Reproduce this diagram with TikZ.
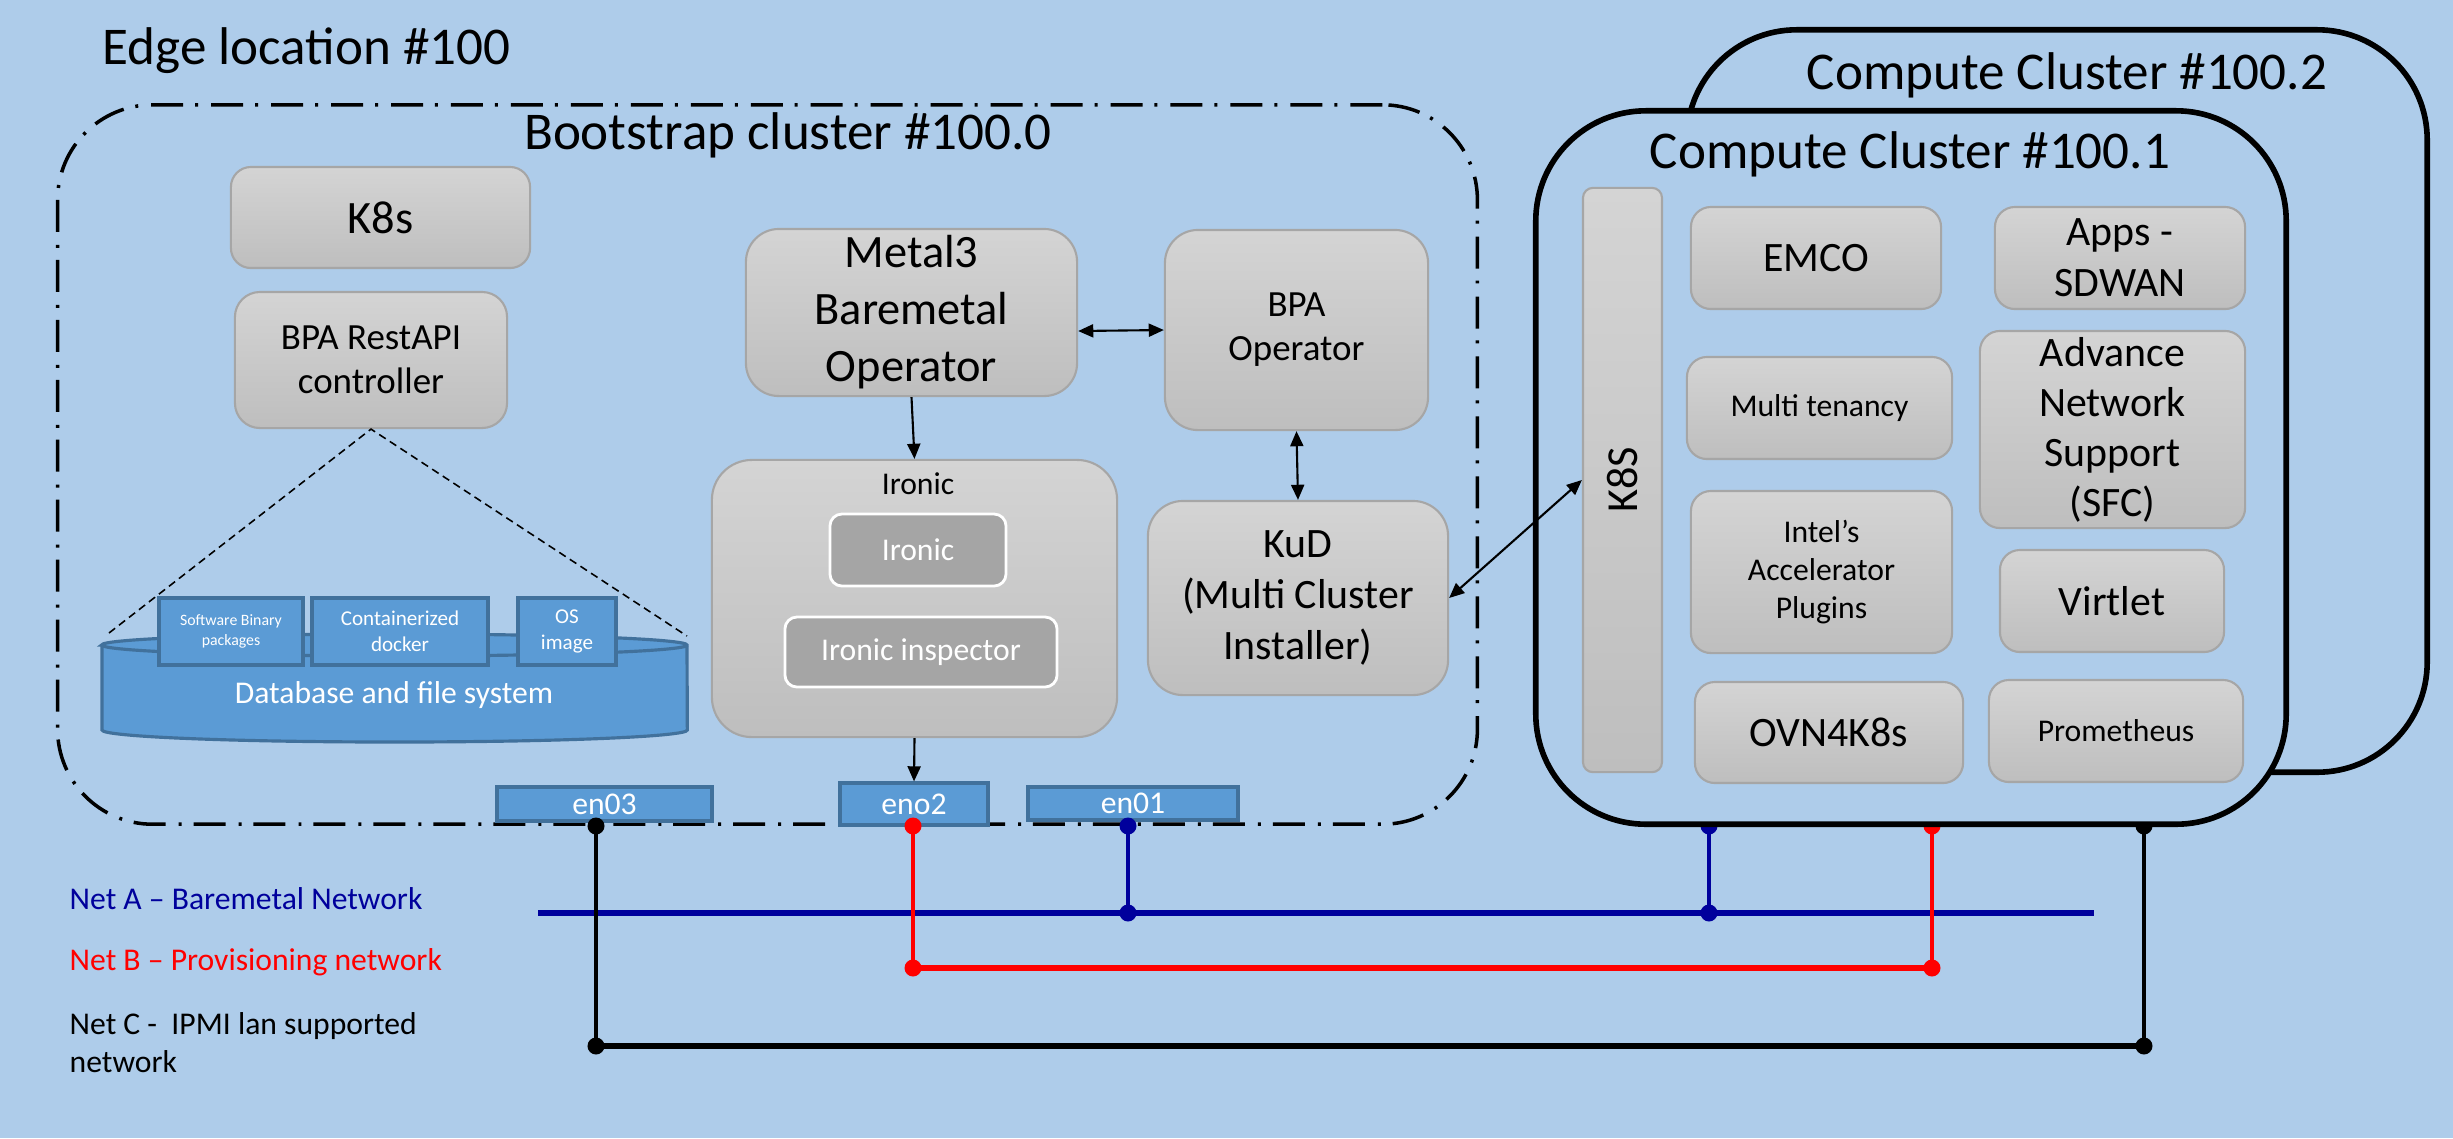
\documentclass[tikz,border=0pt]{standalone}
\usepackage{fontspec}
\setmainfont{Carlito}
\usetikzlibrary{arrows.meta}

\definecolor{bgblue}{HTML}{AECCEA}
\definecolor{boxtop}{HTML}{D4D4D4}
\definecolor{boxbot}{HTML}{BEBEBE}
\definecolor{boxline}{HTML}{A6A6A6}
\definecolor{innergray}{HTML}{A5A5A5}
\definecolor{dbblue}{HTML}{5B9BD5}
\definecolor{dbline}{HTML}{41719C}
\definecolor{netblue}{HTML}{00009C}

\tikzset{
  ftitle/.style={font=\fontsize{15.1}{18}\selectfont},
  flarge/.style={font=\fontsize{13.2}{16.2}\selectfont},
  fmed/.style={font=\fontsize{11.9}{14.6}\selectfont},
  fnorm/.style={font=\fontsize{10.5}{12.5}\selectfont},
  fsmall/.style={font=\fontsize{9}{10.8}\selectfont},
  fdb/.style={font=\fontsize{6}{7.4}\selectfont},
  fmini/.style={font=\fontsize{4.5}{5.7}\selectfont},
  gbox/.style={draw=boxline, line width=0.6pt, top color=boxtop, bottom color=boxbot,
    rounded corners=0.2cm, align=center, inner sep=0pt},
  ibox/.style={draw=white, line width=0.8pt, fill=innergray, text=white,
    rounded corners=0.12cm, inner sep=0pt, fsmall},
  bbox/.style={draw=dbline, line width=0.9pt, fill=dbblue, text=white, align=center, inner sep=0pt},
  bootbox/.style={draw, line width=1pt, dash pattern=on 9.1pt off 3.7pt on 0.85pt off 3.4pt,
    rounded corners=0.95cm, inner sep=0pt},
  clus/.style={draw, line width=1.6pt, fill=bgblue, rounded corners=1.1cm, inner sep=0pt},
  flow/.style={line width=0.6pt, ->},
  link/.style={line width=0.6pt, <->},
  wire/.style={line width=1.4pt},
  bus/.style={line width=1.7pt},
}

\begin{document}
\begin{tikzpicture}[x=0.01cm, y=-0.01cm, >={Triangle[length=4.3pt, width=3.7pt]}]
  \useasboundingbox (0,0) rectangle (2453,1138);
  \fill[bgblue] (0,0) rectangle (2453,1138);

  \node[ftitle, anchor=base west, inner sep=0pt] (edge) at (102,64) {Edge location \#100};

  % bootstrap cluster
  \node[bootbox, minimum width=14.19cm, minimum height=7.19cm] (boot) at (767.5,464.5) {};
  \node[ftitle, anchor=base, inner sep=0pt] (bootlbl) at (788,149) {Bootstrap cluster \#100.0};

  \node[gbox, flarge, minimum width=2.99cm, minimum height=1.01cm] (k8s) at (380.5,217.5) {K8s};
  \node[gbox, fnorm, rounded corners=0.25cm, minimum width=2.72cm, minimum height=1.36cm] (bparest) at (371,360) {BPA RestAPI\\controller};

  % storage
  \coordinate (trl) at (109,633);
  \coordinate (trr) at (687,636);
  \draw[line width=0.45pt, dash pattern=on 2.2pt off 1.4pt] (trl) -- (bparest.south) -- (trr);
  \draw[draw=dbline, fill=dbblue, line width=0.9pt] (102,645) -- (102,730)
    arc[start angle=180, end angle=360, x radius=2.925cm, y radius=0.12cm] -- (687,645)
    arc[start angle=0, end angle=180, x radius=2.925cm, y radius=0.11cm] -- cycle;
  \draw[draw=dbline, line width=0.9pt] (102,645) arc[start angle=180, end angle=360, x radius=2.925cm, y radius=0.11cm];
  \node[fsmall, text=white, anchor=base] (db) at (394,703) {Database and file system};
  \node[bbox, fmini, minimum width=1.44cm, minimum height=0.67cm] (sbp) at (231,631.5) {Software Binary\\packages};
  \node[bbox, fdb, minimum width=1.76cm, minimum height=0.67cm] (cdk) at (400,631.5) {Containerized\\docker};
  \node[bbox, fdb, minimum width=0.98cm, minimum height=0.67cm] (osi) at (567,631.5) {OS\\image};

  % operators
  \node[gbox, flarge, rounded corners=0.33cm, minimum width=3.31cm, minimum height=1.67cm] (metal) at (911.5,312.5) {Metal3\\Baremetal\\Operator};
  \node[gbox, fnorm, rounded corners=0.33cm, minimum width=2.63cm, minimum height=2.0cm] (bpaop) at (1296.5,330) {BPA\\Operator};
  \node[gbox, rounded corners=0.4cm, minimum width=4.05cm, minimum height=2.77cm] (ironic) at (914.5,598.5) {};
  \node[fsmall, anchor=base] (ironiclbl) at (918,494) {Ironic};
  \node[ibox, minimum width=1.76cm, minimum height=0.72cm] (ironicin) at (918,550) {Ironic};
  \node[ibox, minimum width=2.72cm, minimum height=0.70cm] (inspector) at (921,652) {Ironic inspector};
  \node[gbox, fmed, rounded corners=0.35cm, minimum width=3.0cm, minimum height=1.94cm] (kud) at (1298,598) {KuD\\(Multi Cluster\\Installer)};

  % nics
  \node[bbox, fsmall, minimum width=2.15cm, minimum height=0.34cm] (en03) at (604.5,804) {en03};
  \node[bbox, fsmall, minimum width=1.48cm, minimum height=0.42cm] (eno2) at (914,804) {eno2};
  \node[bbox, fsmall, minimum width=2.10cm, minimum height=0.33cm] (en01) at (1133,803.5) {en01};

  % networks
  \coordinate (a0) at (538,913);
  \coordinate (a9) at (2094,913);
  \coordinate (ta1) at (1128,826);
  \coordinate (ja1) at (1128,913);
  \coordinate (ta2) at (1709,826);
  \coordinate (ja2) at (1709,913);
  \coordinate (tb1) at (913,826);
  \coordinate (jb1) at (913,968);
  \coordinate (tb2) at (1932,826);
  \coordinate (jb2) at (1932,968);
  \coordinate (tc1) at (596,826);
  \coordinate (jc1) at (596,1046);
  \coordinate (tc2) at (2144,826);
  \coordinate (jc2) at (2144,1046);
  \draw[bus, netblue] (a0) -- (a9);
  \draw[bus, red] (jb1) -- (jb2);
  \draw[bus] (jc1) -- (jc2);
  \draw[wire, netblue] (ta1) -- (ja1) (ta2) -- (ja2);
  \draw[wire, red] (tb1) -- (jb1) (tb2) -- (jb2);
  \draw[wire] (tc1) -- (jc1) (tc2) -- (jc2);
  \fill[netblue] (ta1) circle[radius=0.085cm] (ja1) circle[radius=0.085cm]
    (ta2) circle[radius=0.085cm] (ja2) circle[radius=0.085cm];
  \fill[red] (tb1) circle[radius=0.085cm] (jb1) circle[radius=0.085cm]
    (tb2) circle[radius=0.085cm] (jb2) circle[radius=0.085cm];
  \fill (tc1) circle[radius=0.085cm] (jc1) circle[radius=0.085cm]
    (tc2) circle[radius=0.085cm] (jc2) circle[radius=0.085cm];

  % compute clusters
  \node[clus, minimum width=7.40cm, minimum height=7.42cm] (cc2) at (2057,401) {};
  \node[ftitle, anchor=base, inner sep=0pt] (cc2lbl) at (2067,89) {Compute Cluster \#100.2};
  \node[clus, minimum width=7.50cm, minimum height=7.13cm] (cc1) at (1911,467.5) {};
  \node[ftitle, anchor=base, inner sep=0pt] (cc1lbl) at (1910,168) {Compute Cluster \#100.1};

  \node[gbox, font=\fontsize{12.6}{15}\selectfont, rotate=90, rounded corners=0.1cm, minimum width=5.84cm, minimum height=0.79cm] (k8sbar) at (1622.5,480) {K8S};
  \node[gbox, fmed, minimum width=2.50cm, minimum height=1.02cm] (emco) at (1816,258) {EMCO};
  \node[gbox, fmed, minimum width=2.50cm, minimum height=1.02cm] (apps) at (2120,258) {Apps -\\SDWAN};
  \node[gbox, fsmall, minimum width=2.65cm, minimum height=1.02cm] (tenancy) at (1819.5,408) {Multi tenancy};
  \node[gbox, font=\fontsize{11.9}{14.2}\selectfont, minimum width=2.65cm, minimum height=1.97cm] (advnet) at (2112.5,429.5) {Advance\\Network\\Support\\(SFC)};
  \node[gbox, fsmall, minimum width=2.61cm, minimum height=1.62cm] (intel) at (1821.5,572) {Intel’s\\Accelerator\\Plugins};
  \node[gbox, fmed, minimum width=2.24cm, minimum height=1.02cm] (virtlet) at (2112,601) {Virtlet};
  \node[gbox, fmed, minimum width=2.68cm, minimum height=1.01cm] (ovn) at (1829,732.5) {OVN4K8s};
  \node[gbox, fsmall, minimum width=2.54cm, minimum height=1.02cm] (prom) at (2116,731) {Prometheus};

  % arrows
  \draw[flow] (metal.south) -- (ironic.north);
  \draw[flow] (ironic.south) -- (eno2.north);
  \draw[link] ([yshift=-0.185cm]metal.east) -- (bpaop.west);
  \draw[link] (bpaop.south) -- (kud.north);
  \draw[link] (kud.east) -- (k8sbar.north);

  % legend
  \node[fsmall, text=netblue, anchor=base west, inner sep=0pt] (neta) at (69,909) {Net A – Baremetal Network};
  \node[fsmall, text=red, anchor=base west, inner sep=0pt] (netb) at (69,970) {Net B – Provisioning network};
  \node[fsmall, anchor=base west, align=left, inner sep=0pt] (netc) at (69,1072) {Net C -\ \ IPMI lan supported\\network};
\end{tikzpicture}
\end{document}
